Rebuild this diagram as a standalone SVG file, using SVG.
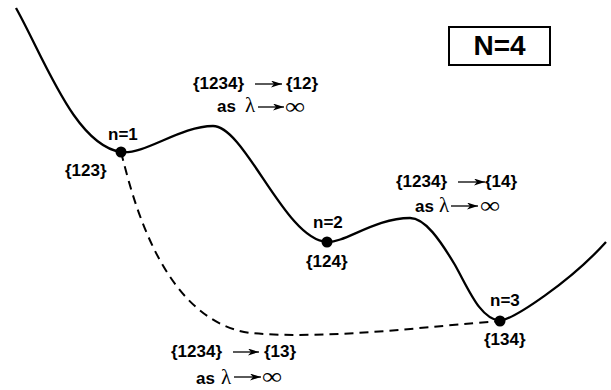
<svg xmlns="http://www.w3.org/2000/svg" width="611" height="390" viewBox="0 0 611 390">
<style>
.lbl{font-family:"Liberation Sans",Arial,sans-serif;font-weight:bold;font-size:17px;fill:#000}
.gr{font-family:"Liberation Serif","Times New Roman",serif;font-size:21px;fill:#000}
.inf{font-family:"Liberation Serif","Times New Roman",serif;font-size:23px;fill:#000}
.curve{fill:none;stroke:#000;stroke-width:2.3}
.dash{fill:none;stroke:#000;stroke-width:2;stroke-dasharray:9 6}
.arr{fill:none;stroke:#000;stroke-width:1.3;marker-end:url(#head)}
.dot{fill:#000}
</style>
<defs>
<marker id="head" markerUnits="userSpaceOnUse" markerWidth="12" markerHeight="8" refX="11" refY="3.5" orient="auto">
<path d="M0,0 L11,3.5 L0,7 L3,3.5 Z" fill="#000"/>
</marker>
</defs>
<g id="connectors">
<path class="curve" d="M16,8 C45,60 75,145 121,152 C145,155 180,126 213,126 C245,126 285,240 327,242 C345,243 375,218 410,218 C425,218 440,240 455,265 C470,292 480,318 500,321 C515,318 570,282 606,242"/>
<path class="dash" d="M121,152 C131,190 160,320 250,333 C330,340 430,326 500,321"/>
</g>
<g id="node-n1">
<circle class="dot" cx="121" cy="152" r="5.5"/>
<text class="lbl" x="108" y="140">n=1</text>
<text class="lbl" x="65" y="176">{123}</text>
</g>
<g id="node-n2">
<circle class="dot" cx="327" cy="242" r="5.5"/>
<text class="lbl" x="313" y="228">n=2</text>
<text class="lbl" x="306" y="267">{124}</text>
</g>
<g id="node-n3">
<circle class="dot" cx="500" cy="321" r="5.5"/>
<text class="lbl" x="490" y="306">n=3</text>
<text class="lbl" x="484" y="345">{134}</text>
</g>
<g id="label-12">
<text class="lbl" x="193" y="89">{1234}</text>
<line class="arr" x1="255" y1="84" x2="282" y2="84"/>
<text class="lbl" x="286" y="89">{12}</text>
<text class="lbl" x="217" y="112">as</text>
<text class="gr" x="245" y="112">λ</text>
<line class="arr" x1="258" y1="107" x2="284" y2="107"/>
<text class="inf" x="285" y="114" textLength="20" lengthAdjust="spacingAndGlyphs">∞</text>
</g>
<g id="label-14">
<text class="lbl" x="396" y="187">{1234}</text>
<line class="arr" x1="458" y1="182" x2="485" y2="182"/>
<text class="lbl" x="485" y="187">{14}</text>
<text class="lbl" x="415" y="212">as</text>
<text class="gr" x="439" y="212">λ</text>
<line class="arr" x1="451" y1="206" x2="478" y2="206"/>
<text class="inf" x="480" y="213" textLength="20" lengthAdjust="spacingAndGlyphs">∞</text>
</g>
<g id="label-13">
<text class="lbl" x="171" y="357">{1234}</text>
<line class="arr" x1="233" y1="352" x2="259" y2="352"/>
<text class="lbl" x="264" y="357">{13}</text>
<text class="lbl" x="196" y="384">as</text>
<text class="gr" x="221" y="384">λ</text>
<line class="arr" x1="234" y1="377" x2="261" y2="377"/>
<text class="inf" x="262" y="384" textLength="20" lengthAdjust="spacingAndGlyphs">∞</text>
</g>
<g id="box-N4">
<rect x="449" y="27" width="101" height="38" fill="#fff" stroke="#000" stroke-width="2"/>
<text x="499.5" y="55" text-anchor="middle" style="font-family:'Liberation Sans',Arial,sans-serif;font-weight:bold;font-size:28px">N=4</text>
</g>
</svg>
